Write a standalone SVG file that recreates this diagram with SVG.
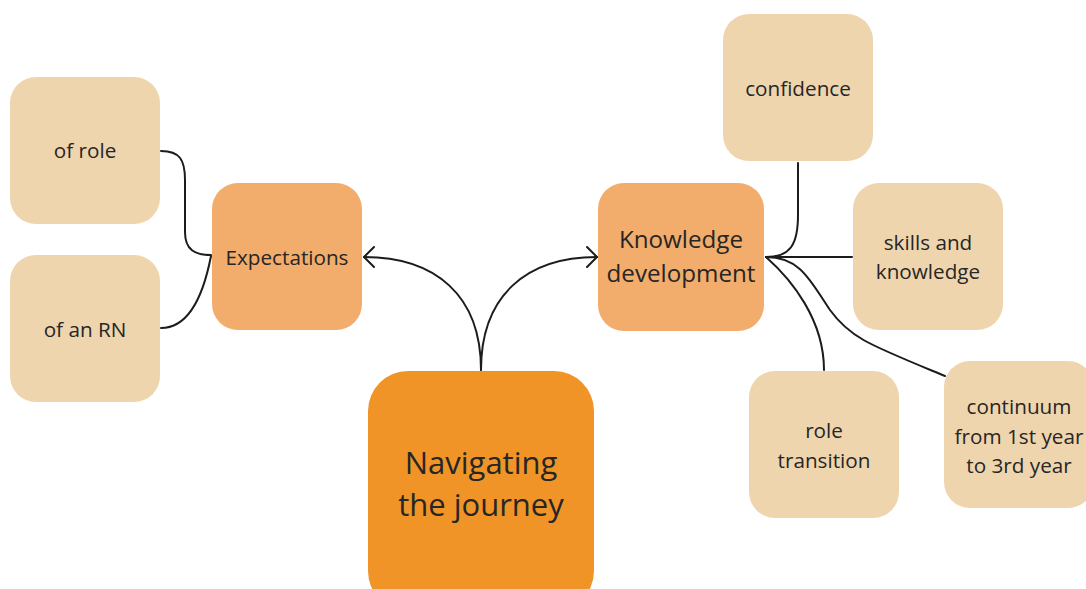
<svg xmlns="http://www.w3.org/2000/svg" width="1086" height="589" viewBox="0 0 1086 589">
<style>
.light{fill:#EFD5AE}
.mid{fill:#F2AC6B}
.main{fill:#F09428}
text{font-family:"Open Sans","Noto Sans","Liberation Sans",sans-serif;fill:#262626;text-anchor:middle}
.s{font-size:20.7px}
.m{font-size:24.2px}
.l{font-size:31px}
.c{fill:none;stroke:#1c1c1c;stroke-width:2;stroke-linecap:round;stroke-linejoin:round}
</style>
<rect width="1086" height="589" fill="#ffffff"/>
<g id="connectors">
<path class="c" d="M161,151 C180,151 185,160 185,180 L185,232 C185,250 195,255 211,255"/>
<path class="c" d="M161,328 C190,328 204,292 211,256"/>
<path class="c" d="M481,370 C481,295 435,257 364,257"/>
<path class="c" d="M374,247 L364,257 L374,267"/>
<path class="c" d="M481,370 C481,295 527,257 597,257"/>
<path class="c" d="M587,247 L597,257 L587,267"/>
<path class="c" d="M798,163 L798,215 C798,245 790,257 766,257"/>
<path class="c" d="M766,257 L852,257"/>
<path class="c" d="M766,257 C792,280 824,320 824,370"/>
<path class="c" d="M766,257 C800,257 810,280 830,310 C850,338 870,345 945,376"/>
</g>
<g id="of-role">
<rect class="light" x="10" y="77" width="150" height="147" rx="26"/>
<text class="s" x="85" y="158">of role</text>
</g>
<g id="of-an-rn">
<rect class="light" x="10" y="255" width="150" height="147" rx="26"/>
<text class="s" x="85" y="337">of an RN</text>
</g>
<g id="expectations">
<rect class="mid" x="212" y="183" width="150" height="147" rx="26"/>
<text class="s" x="287" y="265">Expectations</text>
</g>
<g id="knowledge-development">
<rect class="mid" x="598" y="183" width="166" height="148" rx="26"/>
<text class="m" x="681" y="248">Knowledge</text>
<text class="m" x="681" y="282">development</text>
</g>
<g id="navigating">
<rect class="main" x="368" y="371" width="226" height="240" rx="40"/>
<text class="l" x="481" y="474">Navigating</text>
<text class="l" x="481" y="516">the journey</text>
</g>
<g id="confidence">
<rect class="light" x="723" y="14" width="150" height="147" rx="26"/>
<text class="s" x="798" y="96">confidence</text>
</g>
<g id="skills">
<rect class="light" x="853" y="183" width="150" height="147" rx="26"/>
<text class="s" x="928" y="250">skills and</text>
<text class="s" x="928" y="279">knowledge</text>
</g>
<g id="role-transition">
<rect class="light" x="749" y="371" width="150" height="147" rx="26"/>
<text class="s" x="824" y="438">role</text>
<text class="s" x="824" y="468">transition</text>
</g>
<g id="continuum">
<rect class="light" x="944" y="361" width="150" height="147" rx="26"/>
<text class="s" x="1019" y="414">continuum</text>
<text class="s" x="1019" y="444">from 1st year</text>
<text class="s" x="1019" y="473">to 3rd year</text>
</g>
</svg>
